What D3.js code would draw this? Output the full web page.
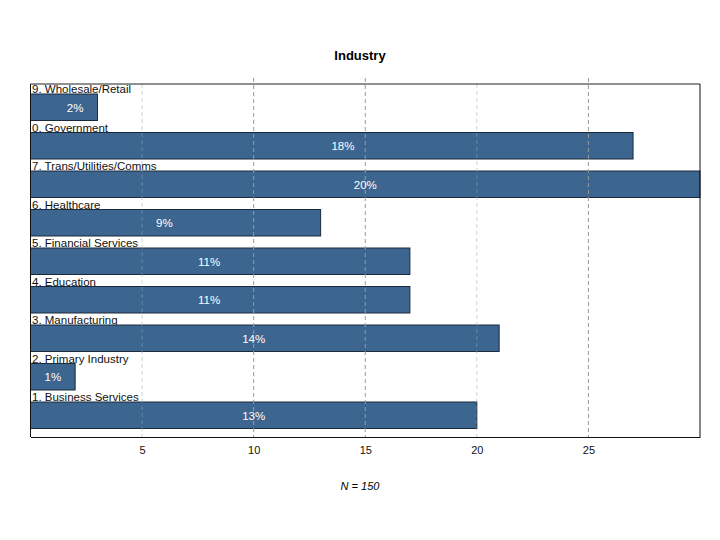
<!DOCTYPE html>
<html><head><meta charset="utf-8">
<script src="https://cdn.jsdelivr.net/npm/d3@7"></script>
<style>body{margin:0;background:#fff}svg{display:block}text{font-family:"Liberation Sans",Arial,sans-serif}</style>
</head><body><svg id="c" width="720" height="540"></svg>
<script>
const categories = ["9. Wholesale/Retail","0. Government","7. Trans/Utilities/Comms","6. Healthcare","5. Financial Services","4. Education","3. Manufacturing","2. Primary Industry","1. Business Services"];
const counts = [3,27,30,13,17,17,21,2,20];
const percentLabels = ["2%","18%","20%","9%","11%","11%","14%","1%","13%"];
const xTicks = [5,10,15,20,25];
const title = "Industry";
const footnote = "N = 150";

const svg = d3.select("#c");
const L=30.5, R=700, T=84, B=437;
const x = d3.scaleLinear().domain([0,30]).range([L,R]);
const y = d3.scaleBand().domain(categories).range([T+1,T+1+9*38.5]).paddingInner(0).paddingOuter(0);
const barH = 26.5;

function roundEven(v){const f=Math.floor(v);const d=v-f;if(Math.abs(d-0.5)<1e-9)return (f%2===0)?f:f+1;return Math.round(v);}

svg.append("text").attr("x",360).attr("y",60).attr("text-anchor","middle").attr("font-size",13).attr("font-weight","bold").text(title);

const g = svg.append("g");
categories.forEach((c,i)=>{
  const top = y(c) + 9;
  g.append("text").attr("x",L+1.5).attr("y",top-1).attr("font-size",11.5).attr("fill","#111").text(c);
  g.append("rect").attr("x",x(0)).attr("y",top).attr("width",x(counts[i])-x(0)).attr("height",barH)
    .attr("fill","#3c6590").attr("stroke","#1a2a3a").attr("stroke-width",1);
});
xTicks.forEach(t=>{
  svg.append("line").attr("x1",x(t)).attr("x2",x(t)).attr("y1",(t===5||t===20)?T:T-6).attr("y2",B)
    .attr("stroke",(t===5||t===20)?"#9aa7b5":"#999").attr("stroke-width",1).attr("stroke-dasharray","4,3")
    .attr("opacity",(t===5||t===20)?0.5:1);
});
categories.forEach((c,i)=>{
  const top = y(c) + 9;
  svg.append("text").attr("x",x(roundEven(counts[i]/2))).attr("y",top+barH/2+4.5).attr("text-anchor","middle")
    .attr("font-size",11.5).attr("fill","#fff").text(percentLabels[i]);
});
svg.append("line").attr("x1",L).attr("x2",R).attr("y1",T).attr("y2",T).attr("stroke","#222");
svg.append("line").attr("x1",R).attr("x2",R).attr("y1",T).attr("y2",B).attr("stroke","#111");
svg.append("line").attr("x1",L).attr("x2",L).attr("y1",T).attr("y2",B).attr("stroke","#111");
const ax = svg.append("g").attr("transform",`translate(0,${B})`).call(d3.axisBottom(x).tickValues(xTicks).tickSize(0).tickPadding(9));
ax.select(".domain").attr("stroke","#111");
ax.selectAll("text").attr("font-size",11).attr("fill","#111").style("font-family","Liberation Sans, Arial, sans-serif");

svg.append("text").attr("x",360).attr("y",490).attr("text-anchor","middle").attr("font-size",11).attr("font-style","italic").text(footnote);
</script></body></html>
